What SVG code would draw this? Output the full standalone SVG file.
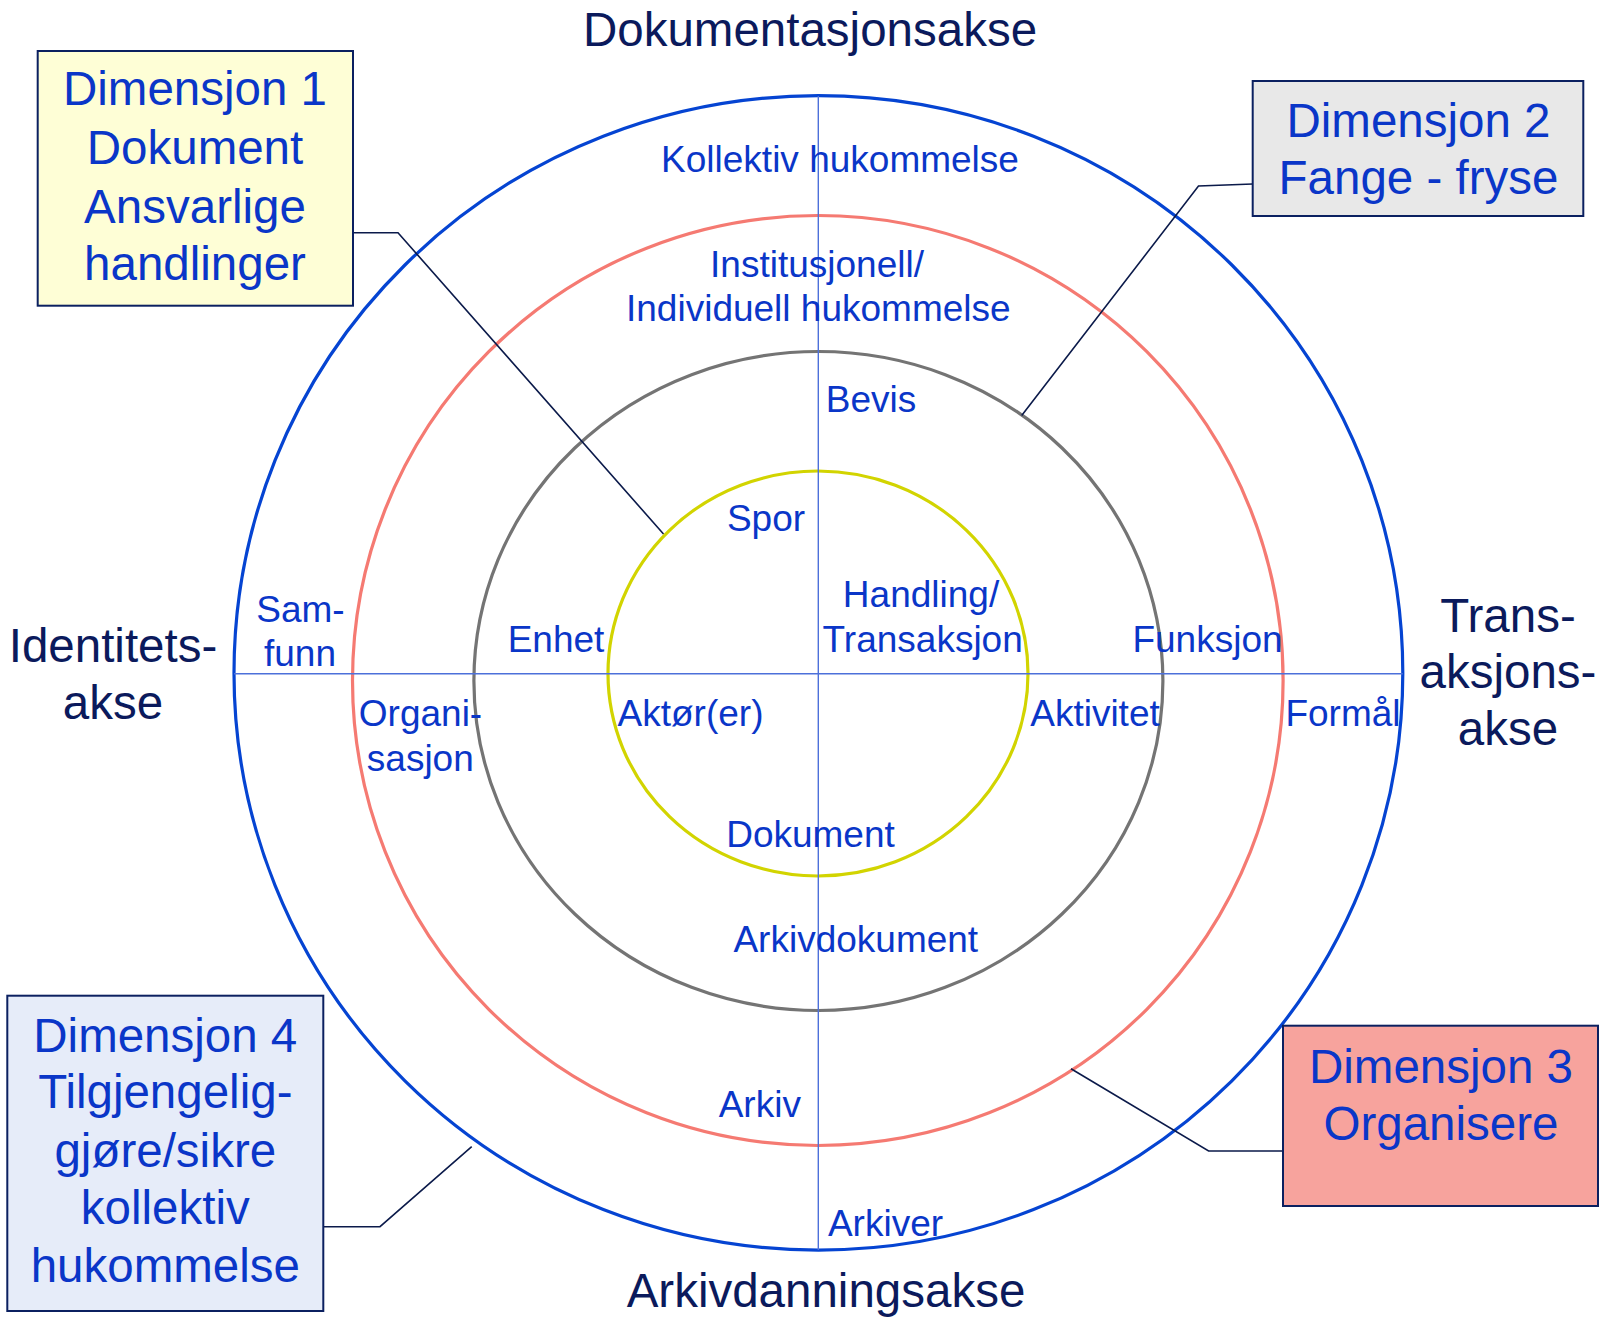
<svg xmlns="http://www.w3.org/2000/svg" width="1602" height="1317" viewBox="0 0 1602 1317">
<style>
.lbl{font-family:"Liberation Sans",Arial,sans-serif;font-size:37px;fill:#0a36c8;text-anchor:middle}
.dim{font-family:"Liberation Sans",Arial,sans-serif;font-size:47.5px;fill:#0a36c8;text-anchor:middle}
.axt{font-family:"Liberation Sans",Arial,sans-serif;font-size:47.5px;fill:#0b1a5c;text-anchor:middle}
.box{stroke:#0b2060;stroke-width:2}
.ring{fill:none;stroke-width:3.2}
.axis{stroke:#4d70da;stroke-width:1.4;fill:none}
.con{stroke:#0b1a4a;stroke-width:1.6;fill:none}
</style>
<rect width="1602" height="1317" fill="#ffffff"/>
<g id="rings">
<ellipse class="ring" cx="818.4" cy="672.9" rx="584.4" ry="577.2" stroke="#0544d2"/>
<ellipse class="ring" cx="817.8" cy="680.5" rx="465.3" ry="465" stroke="#f57a72"/>
<ellipse class="ring" cx="818.4" cy="681" rx="344.5" ry="329.5" stroke="#747474"/>
<ellipse class="ring" cx="818" cy="673.5" rx="210" ry="202.5" stroke="#d2d400"/>
</g>
<g id="axes">
<line class="axis" x1="234" y1="673.7" x2="1402.8" y2="673.7"/>
<line class="axis" x1="818.3" y1="96" x2="818.3" y2="1250"/>
</g>
<g id="ring-labels">
<text class="lbl" x="840" y="171.7">Kollektiv hukommelse</text>
<text class="lbl" x="817" y="276.7">Institusjonell/</text>
<text class="lbl" x="818.3" y="320.7">Individuell hukommelse</text>
<text class="lbl" x="871" y="411.7">Bevis</text>
<text class="lbl" x="766" y="530.7">Spor</text>
<text class="lbl" x="921" y="606.7">Handling/</text>
<text class="lbl" x="922.7" y="651.7">Transaksjon</text>
<text class="lbl" x="556" y="651.7">Enhet</text>
<text class="lbl" x="690.5" y="726">Aktør(er)</text>
<text class="lbl" x="810.5" y="846.7">Dokument</text>
<text class="lbl" x="855.8" y="951.7">Arkivdokument</text>
<text class="lbl" x="759.8" y="1116.7">Arkiv</text>
<text class="lbl" x="885.5" y="1236">Arkiver</text>
<text class="lbl" x="300.5" y="621.7">Sam-</text>
<text class="lbl" x="300" y="666">funn</text>
<text class="lbl" x="420.5" y="726">Organi-</text>
<text class="lbl" x="420.3" y="770.7">sasjon</text>
<text class="lbl" x="1207.5" y="651.7">Funksjon</text>
<text class="lbl" x="1095" y="725.7">Aktivitet</text>
<text class="lbl" x="1343" y="725.7">Formål</text>
</g>
<g id="axis-titles">
<text class="axt" x="810" y="46">Dokumentasjonsakse</text>
<text class="axt" x="826" y="1307">Arkivdanningsakse</text>
<text class="axt" x="113" y="662">Identitets-</text>
<text class="axt" x="113" y="719">akse</text>
<text class="axt" x="1508" y="631.7">Trans-</text>
<text class="axt" x="1508" y="688.3">aksjons-</text>
<text class="axt" x="1508" y="745">akse</text>
</g>
<g id="connectors">
<polyline class="con" points="353,232.7 398,232.7 663.5,534"/>
<polyline class="con" points="1252.7,184 1198.5,186 1021.7,415.5"/>
<polyline class="con" points="1283,1151 1208.6,1151 1071,1068.7"/>
<polyline class="con" points="323.3,1226.7 380,1226.7 471.7,1146.7"/>
</g>
<g id="dim1">
<rect class="box" x="37.7" y="51" width="315.3" height="254.7" fill="#fefed6"/>
<text class="dim" x="195" y="105">Dimensjon 1</text>
<text class="dim" x="195" y="164">Dokument</text>
<text class="dim" x="195" y="222.7">Ansvarlige</text>
<text class="dim" x="195" y="280">handlinger</text>
</g>
<g id="dim2">
<rect class="box" x="1252.7" y="81" width="330.6" height="135" fill="#e8e8e8"/>
<text class="dim" x="1418.5" y="136.7">Dimensjon 2</text>
<text class="dim" x="1418.5" y="194">Fange - fryse</text>
</g>
<g id="dim3">
<rect class="box" x="1283" y="1025.7" width="315" height="180.3" fill="#f7a39d"/>
<text class="dim" x="1441" y="1082.7">Dimensjon 3</text>
<text class="dim" x="1441" y="1140">Organisere</text>
</g>
<g id="dim4">
<rect class="box" x="7.3" y="995.7" width="316" height="315.3" fill="#e6ecf9"/>
<text class="dim" x="165.3" y="1051.7">Dimensjon 4</text>
<text class="dim" x="165.3" y="1108.3">Tilgjengelig-</text>
<text class="dim" x="165.3" y="1166.7">gjøre/sikre</text>
<text class="dim" x="165.3" y="1224">kollektiv</text>
<text class="dim" x="165.3" y="1281.7">hukommelse</text>
</g>
</svg>
